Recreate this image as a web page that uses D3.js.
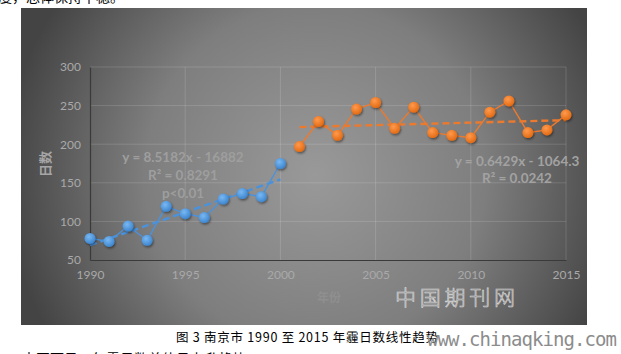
<!DOCTYPE html>
<html>
<head>
<meta charset="utf-8">
<script src="https://cdn.jsdelivr.net/npm/d3@7"></script>
<style>
  body { margin: 0; background: #fff; }
  svg { display: block; }
</style>
</head>
<body>
<div id="chart"></div>
<script>
'use strict'

// haze days, Nanjing
const years1 = [1990, 1991, 1992, 1993, 1994, 1995, 1996, 1997, 1998, 1999, 2000];
const days1 = [78, 74, 94, 75.5, 119.5, 110, 105, 129, 136, 132, 175];
const years2 = [2001, 2002, 2003, 2004, 2005, 2006, 2007, 2008, 2009, 2010, 2011, 2012, 2013, 2014, 2015];
const days2 = [197, 229.5, 211.5, 245.5, 254, 220.5, 248, 215, 211.5, 208.5, 241.5, 256, 215, 218.5, 238];
const xTicks = [1990, 1995, 2000, 2005, 2010, 2015];
const yTicks = [50, 100, 150, 200, 250, 300];
// trend lines as printed on the chart
const trend1 = { slope: 8.5182, icpt: -16882, from: 1990, to: 2000 };
const trend2 = { slope: 0.6429, icpt: -1064.3, from: 2001, to: 2015 };
const eq1 = ['y = 8.5182x - 16882', 'R² = 0.8291', 'p<0.01'];
const eq2 = ['y = 0.6429x - 1064.3', 'R² = 0.0242'];

const width = 621;
const height = 354;

const svg = d3.select('#chart')
  .append('svg')
    .attr('width', width)
    .attr('height', height);

const defs = svg.append('defs');

const bg = defs.append('radialGradient')
  .attr('id', 'bg')
  .attr('gradientUnits', 'userSpaceOnUse')
  .attr('cx', 315).attr('cy', 175).attr('r', 310);
bg.append('stop').attr('offset', '0%').attr('stop-color', '#999999');
bg.append('stop').attr('offset', '55%').attr('stop-color', '#7e7e7e');
bg.append('stop').attr('offset', '100%').attr('stop-color', '#444444');

const markerGrad = (id, c1, c2) => {
  const g = defs.append('radialGradient')
    .attr('id', id)
    .attr('cx', '40%').attr('cy', '35%').attr('r', '65%');
  g.append('stop').attr('offset', '0%').attr('stop-color', c1);
  g.append('stop').attr('offset', '100%').attr('stop-color', c2);
};
markerGrad('mBlue', '#7ab8f2', '#3d86d0');
markerGrad('mOrange', '#ff9a4e', '#e36a12');

const shadow = defs.append('filter')
  .attr('id', 'shadow')
  .attr('x', '-50%').attr('y', '-50%')
  .attr('width', '200%').attr('height', '200%');
shadow.append('feDropShadow')
  .attr('dx', 1).attr('dy', 1.5)
  .attr('stdDeviation', 1.2)
  .attr('flood-color', '#000')
  .attr('flood-opacity', 0.45);

// text outside the chart box
svg.append('text')
  .attr('x', -2).attr('y', 2)
  .style('font-family', '"Noto Sans CJK SC"')
  .style('font-size', '14px')
  .attr('fill', '#000')
  .text('度，总体保持平稳。');

svg.append('rect')
  .attr('x', 21).attr('y', 8)
  .attr('width', 566).attr('height', 317)
  .attr('fill', 'url(#bg)');

const x = d3.scaleLinear().domain([1990, 2015]).range([90, 566]);
const y = d3.scaleLinear().domain([50, 300]).range([260, 67]);

const g = svg.append('g');

// gridlines
g.selectAll('.hgrid')
  .data(yTicks.slice(1))
  .enter()
  .append('line')
    .attr('x1', x(1990)).attr('x2', x(2015))
    .attr('y1', d => y(d)).attr('y2', d => y(d))
    .attr('stroke', 'rgba(255,255,255,0.14)')
    .attr('stroke-width', 1);

g.selectAll('.vgrid')
  .data(xTicks.slice(1))
  .enter()
  .append('line')
    .attr('x1', d => x(d)).attr('x2', d => x(d))
    .attr('y1', y(50)).attr('y2', y(300))
    .attr('stroke', 'rgba(255,255,255,0.14)')
    .attr('stroke-width', 1);

const tickFont = 'Lato, "Open Sans", sans-serif';

const yAxis = g.append('g')
  .attr('transform', 'translate(' + x(1990) + ',0)')
  .call(d3.axisLeft(y).tickValues(yTicks).tickSize(0).tickPadding(9));
yAxis.select('.domain').attr('stroke', '#3a3a3a').attr('stroke-width', 1.2);
yAxis.selectAll('text')
  .attr('fill', '#a9a9a9')
  .style('font-family', tickFont)
  .style('font-size', '12px');

const xAxis = g.append('g')
  .attr('transform', 'translate(0,' + y(50) + ')')
  .call(d3.axisBottom(x).tickValues(xTicks).tickFormat(d3.format('d')).tickSize(0).tickPadding(10));
xAxis.select('.domain').attr('stroke', '#3a3a3a').attr('stroke-width', 1.2);
xAxis.selectAll('text')
  .attr('fill', '#a9a9a9')
  .style('font-family', tickFont)
  .style('font-size', '12px');

// axis titles
g.append('text')
  .attr('transform', 'translate(50,164) rotate(-90)')
  .attr('text-anchor', 'middle')
  .attr('fill', '#a6a6a6')
  .style('font-family', '"Noto Sans CJK SC"')
  .style('font-size', '13px')
  .style('font-weight', 'bold')
  .text('日数');

g.append('text')
  .attr('x', 329).attr('y', 302)
  .attr('text-anchor', 'middle')
  .attr('fill', '#8f8f8f')
  .style('font-family', '"Noto Sans CJK SC"')
  .style('font-size', '12px')
  .style('font-weight', 'bold')
  .text('年份');

// series
const drawSeries = (years, vals, color) => {
  const pts = years.map((yr, i) => [yr, vals[i]]);
  const line = d3.line()
    .x(d => x(d[0]))
    .y(d => y(d[1]));
  g.append('path')
    .datum(pts)
    .attr('d', line)
    .attr('fill', 'none')
    .attr('stroke', color)
    .attr('stroke-width', 1.4);
  return pts;
};

const drawTrend = (t, color) => {
  g.append('line')
    .attr('x1', x(t.from)).attr('x2', x(t.to))
    .attr('y1', y(t.slope * t.from + t.icpt))
    .attr('y2', y(t.slope * t.to + t.icpt))
    .attr('stroke', color)
    .attr('stroke-width', 2.4)
    .attr('stroke-dasharray', '7,4');
};

const drawMarkers = (pts, grad) => {
  g.append('g')
    .selectAll('circle')
    .data(pts)
    .enter()
    .append('circle')
      .attr('cx', d => x(d[0]))
      .attr('cy', d => y(d[1]))
      .attr('r', 5.5)
      .attr('fill', 'url(#' + grad + ')')
      .attr('filter', 'url(#shadow)');
};

const pts1 = drawSeries(years1, days1, '#4a92dc');
const pts2 = drawSeries(years2, days2, '#ec7a2e');
drawTrend(trend1, '#4a92dc');
drawTrend(trend2, '#ec7a2e');
drawMarkers(pts1, 'mBlue');
drawMarkers(pts2, 'mOrange');

// equations
const eqFont = 'Lato, "Open Sans", sans-serif';
g.selectAll('.eq1')
  .data(eq1)
  .enter()
  .append('text')
    .attr('x', 183)
    .attr('y', (d, i) => 162 + i * 18)
    .attr('text-anchor', 'middle')
    .attr('fill', '#9e9e9e')
    .style('font-family', eqFont)
    .style('font-size', '13.5px')
    .style('font-weight', 'bold')
    .text(d => d);

g.selectAll('.eq2')
  .data(eq2)
  .enter()
  .append('text')
    .attr('x', 517)
    .attr('y', (d, i) => 166 + i * 17)
    .attr('text-anchor', 'middle')
    .attr('fill', '#a2a2a2')
    .style('font-family', eqFont)
    .style('font-size', '13.5px')
    .style('font-weight', 'bold')
    .text(d => d);

// watermark on the chart
svg.append('text')
  .attr('x', 395).attr('y', 305)
  .attr('fill', 'none')
  .attr('stroke', '#dcdcdc')
  .attr('stroke-width', 0.6)
  .attr('textLength', 120)
  .style('font-family', '"Noto Sans CJK SC"')
  .style('font-size', '21px')
  .style('font-weight', '300')
  .text('中国期刊网');

// caption
svg.append('text')
  .attr('x', 176).attr('y', 342)
  .attr('fill', '#000')
  .attr('textLength', 262)
  .attr('lengthAdjust', 'spacing')
  .style('font-family', '"Noto Sans CJK SC"')
  .style('font-size', '12.5px')
  .text('图 3 南京市 1990 至 2015 年霾日数线性趋势');

svg.append('text')
  .attr('x', 427).attr('y', 346)
  .attr('fill', '#8c8c8c')
  .attr('textLength', 190)
  .style('font-family', '"DejaVu Sans Mono", monospace')
  .style('font-size', '19px')
  .text('www.chinaqking.com');

svg.append('text')
  .attr('x', 22).attr('y', 364)
  .attr('fill', '#000')
  .style('font-family', '"Noto Sans CJK SC"')
  .style('font-size', '14px')
  .text('由图可见，年霾日数总体呈上升趋势');
</script>
</body>
</html>
